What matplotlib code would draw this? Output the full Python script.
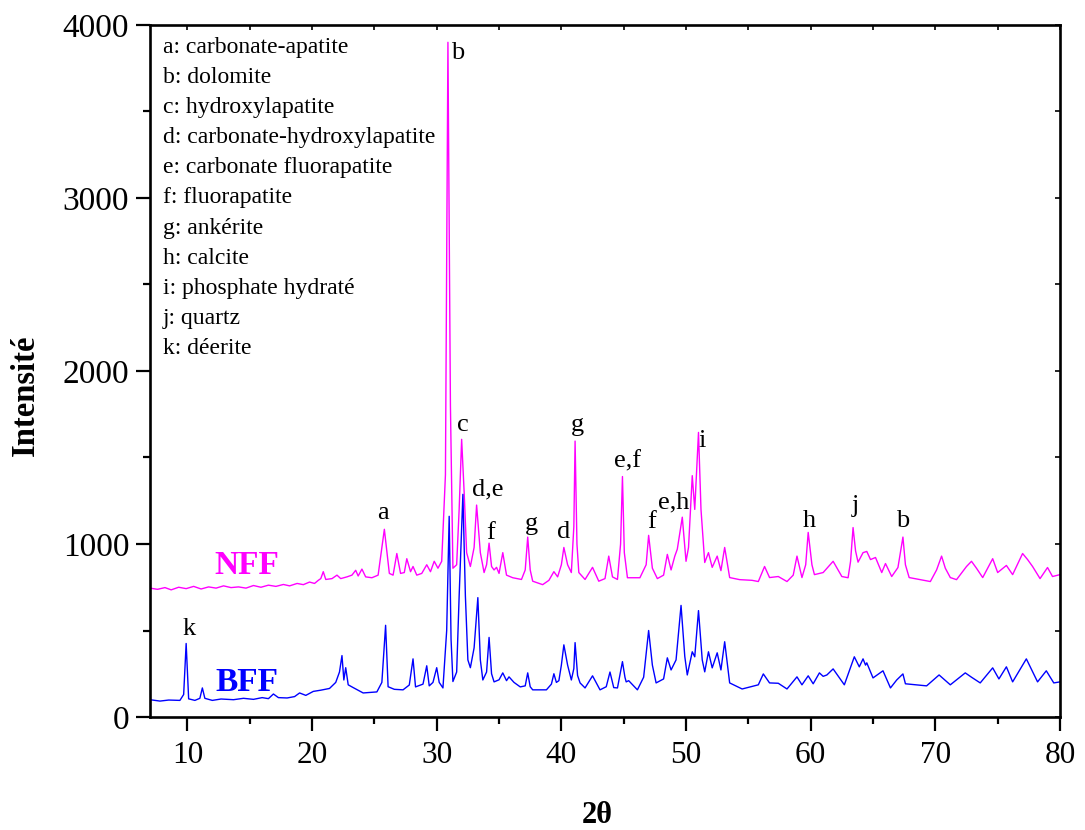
import matplotlib
matplotlib.use("Agg")
import matplotlib.pyplot as plt
from matplotlib.ticker import MultipleLocator

# Diffractogram of sample NFF (2theta, counts)
nff_2theta = [7.0, 7.6, 8.2, 8.7, 9.3, 9.9, 10.5, 11.1, 11.7, 12.3, 12.9, 13.5, 14.1,
              14.7, 15.3, 15.9, 16.5, 17.1, 17.7, 18.2, 18.8, 19.3, 19.8, 20.2, 20.5,
              20.7, 20.9, 21.1, 21.6, 22.0, 22.3,
              22.8, 23.2, 23.5, 23.7, 24.0, 24.3, 24.8, 25.3, 25.8, 26.2, 26.5, 26.8, 27.1,
              27.4, 27.6, 27.9, 28.1, 28.4, 28.8, 29.2, 29.5, 29.8, 30.1, 30.4, 30.7, 30.9,
              31.1, 31.3, 31.6, 31.8, 32.0, 32.2, 32.4, 32.7, 33.0, 33.2, 33.5, 33.8, 34.0,
              34.2, 34.4, 34.6, 34.8, 35.0, 35.3, 35.6, 36.1, 36.8, 37.1, 37.3, 37.5, 37.7,
              38.5, 39.0, 39.4, 39.7, 40.0, 40.2, 40.5, 40.8, 41.0, 41.1, 41.25, 41.4, 41.9,
              42.5, 43.0, 43.5, 43.8, 44.1, 44.5, 44.75, 44.9, 45.05, 45.3, 46.3, 46.8, 47.0,
              47.3, 47.7, 48.2, 48.5, 48.8, 49.1, 49.3, 49.7, 50.0, 50.2, 50.5, 50.7, 51.0,
              51.2, 51.5, 51.8, 52.1, 52.5, 52.8, 53.1, 53.5, 54.3, 55.3, 55.8, 56.3, 56.7,
              57.4, 58.1, 58.6, 58.9, 59.3, 59.6, 59.8, 60.1, 60.3, 61.0, 61.8, 62.5, 63.0,
              63.2, 63.4, 63.6, 63.8, 64.2, 64.5, 64.8, 65.2, 65.7, 66.0, 66.5, 67.0, 67.4,
              67.6, 67.9, 69.6, 70.1, 70.5, 70.8, 71.2, 71.7, 72.5, 72.9, 73.3, 73.8, 74.6,
              75.0, 75.7, 76.2, 77.0, 77.4, 77.8, 78.4, 79.0, 79.4, 80.0]
nff_counts = [745, 738, 748, 735, 750, 742, 755, 740, 752, 745, 758, 748, 752,
              745, 760, 750, 762, 755, 766, 758, 772, 765, 780, 772, 790,
              800, 840, 795, 800, 820, 800,
              810, 820, 848, 815, 855, 810, 805, 820, 1085, 830, 820, 945, 830,
              835, 915, 840, 870, 820, 830, 880, 840, 900, 860, 900, 1400, 3900,
              1800, 860, 880, 1200, 1605, 1300, 950, 870, 980, 1225, 950, 835, 880,
              1005, 870, 850, 865, 830, 950, 820, 805, 795, 850, 1040, 850, 785,
              765, 790, 840, 810, 880, 980, 880, 835, 1100, 1595, 1000, 835, 795,
              865, 785, 800, 930, 810, 795, 1000, 1390, 950, 805, 805, 880, 1050,
              860, 800, 820, 940, 850, 930, 970, 1155, 900, 980, 1395, 1200, 1645,
              1200, 893, 950, 865, 930, 846, 980, 806, 794, 790, 783, 870, 806,
              812, 783, 820, 930, 806, 880, 1067, 880, 823, 835, 900, 812, 805,
              900, 1095, 960, 895, 950, 957, 910, 922, 835, 887, 812, 864, 1040,
              880, 806, 783, 850, 930, 860, 806, 794, 870, 900, 860, 806, 915,
              835, 876, 823, 945, 910, 870, 800, 864, 812, 823]

# Diffractogram of sample BFF (2theta, counts)
bff_2theta = [7.0, 7.8, 8.5, 9.4, 9.7, 9.9, 10.1, 10.6, 11.0, 11.2, 11.4, 12.0, 12.7, 13.7,
              14.5, 15.3, 16.0, 16.5, 16.9, 17.3, 18.0, 18.6, 19.0, 19.5, 20.1, 20.7, 21.4,
              21.9, 22.2, 22.4, 22.55,
              22.7, 22.9, 23.3, 24.1, 25.2, 25.6, 25.9, 26.1, 26.6, 27.3, 27.8, 28.1, 28.3,
              28.9, 29.2, 29.4, 29.7, 30.0, 30.2, 30.5, 30.8, 31.0, 31.15, 31.3, 31.6, 31.8,
              32.1, 32.3, 32.5, 32.7, 33.0, 33.3, 33.5, 33.7, 34.0, 34.2, 34.4, 34.6, 35.0,
              35.3, 35.6, 35.8, 36.2, 36.7, 37.1, 37.3, 37.5, 37.7, 38.8, 39.2, 39.4, 39.6,
              39.8, 40.0, 40.2, 40.5, 40.8, 41.0, 41.1, 41.3, 41.5, 41.9, 42.5, 43.1, 43.6,
              43.9, 44.2, 44.5, 44.9, 45.1, 45.2, 45.4, 46.1, 46.6, 47.0, 47.3, 47.6, 48.2,
              48.5, 48.8, 49.2, 49.6, 49.9, 50.1, 50.5, 50.7, 51.0, 51.3, 51.5, 51.8, 52.1,
              52.5, 52.8, 53.1, 53.5, 54.5, 55.8, 56.2, 56.7, 57.4, 58.1, 58.9, 59.3, 59.8,
              60.2, 60.7, 61.0, 61.3, 61.8, 62.7, 63.5, 63.9, 64.2, 64.4, 64.5, 65.0, 65.8,
              66.4, 66.9, 67.4, 67.6, 69.3, 70.3, 71.2, 72.4, 72.9, 73.6, 74.6, 75.1, 75.7,
              76.2, 77.3, 78.2, 78.9, 79.5, 80.0]
bff_counts = [100, 92, 98, 96, 130, 425, 105, 96, 108, 168, 108, 96, 104, 100,
              108, 102, 112, 106, 133, 112, 110, 118, 139, 125, 148, 155, 165,
              200, 260, 355, 214,
              285, 186, 170, 139, 145, 200, 530, 175, 160, 157, 185, 336, 174,
              190, 296, 180, 200, 285, 200, 168, 500, 1160, 450, 205, 260, 700,
              1287, 700, 330, 285, 400, 690, 330, 214, 260, 460, 250, 203, 215,
              255, 210, 232, 200, 174, 180, 255, 175, 157, 157, 190, 250, 200,
              210, 300, 417, 300, 214, 280, 430, 240, 197, 168, 238, 157, 175,
              260, 170, 168, 320, 230, 203, 210, 157, 230, 500, 300, 197, 220,
              342, 272, 330, 645, 350, 243, 377, 348, 615, 330, 261, 377, 284,
              371, 272, 435, 197, 162, 186, 249, 197, 195, 162, 232, 186, 238,
              192, 255, 235, 243, 278, 186, 348, 290, 336, 300, 313, 226, 267,
              168, 214, 249, 192, 180, 243, 186, 255, 230, 197, 284, 220, 290,
              203, 336, 203, 267, 197, 203]

# Phase key shown in the upper-left corner
phase_key = ["a: carbonate-apatite", "b: dolomite", "c: hydroxylapatite",
             "d: carbonate-hydroxylapatite", "e: carbonate fluorapatite",
             "f: fluorapatite", "g: ankérite", "h: calcite",
             "i: phosphate hydraté", "j: quartz", "k: déerite"]

# Peak assignments: label and its (2theta, intensity) anchor
peak_labels = ["a", "b", "c", "d,e", "f", "g", "d", "g", "e,f", "f", "e,h", "i",
               "h", "j", "b", "k"]
peak_label_x = [25.7, 31.7, 32.1, 34.1, 34.3, 37.6, 40.2, 41.3, 45.3, 47.2, 49.0,
                51.3, 59.9, 63.6, 67.4, 10.1]
peak_label_y = [1180, 3840, 1690, 1316, 1061, 1113, 1067, 1687, 1478, 1125, 1241,
                1594, 1131, 1218, 1131, 510]

plt.rcParams["font.family"] = ["Liberation Serif", "DejaVu Serif"]

fig = plt.figure(figsize=(10.85, 8.30), dpi=100)
ax = fig.add_axes([150 / 1085, 1 - 717 / 830, 910 / 1085, 692 / 830])

ax.plot(nff_2theta, nff_counts, color="#FF00FF", lw=1.0)
ax.plot(bff_2theta, bff_counts, color="#0000FF", lw=1.0)

ax.set_xlim(7, 80)
ax.set_ylim(0, 4000)

ax.xaxis.set_major_locator(MultipleLocator(10))
ax.xaxis.set_minor_locator(MultipleLocator(5))
ax.yaxis.set_major_locator(MultipleLocator(1000))
ax.yaxis.set_minor_locator(MultipleLocator(500))

for s in ax.spines.values():
    s.set_linewidth(1.9)

ax.tick_params(axis="both", which="major", direction="out", length=10, width=1.6)
ax.tick_params(axis="both", which="minor", direction="out", length=5, width=1.6)
ax.tick_params(axis="x", which="major", labelsize=22.5, pad=7)
ax.tick_params(axis="y", which="major", labelsize=24, pad=5)

# mirrored inner ticks on top and right
top = ax.secondary_xaxis("top")
top.xaxis.set_major_locator(MultipleLocator(5))
top.tick_params(direction="in", length=3.5, width=1.2, labeltop=False)
right = ax.secondary_yaxis("right")
right.yaxis.set_major_locator(MultipleLocator(500))
right.tick_params(direction="in", length=3.5, width=1.2, labelright=False)
for sec in (top, right):
    for s in sec.spines.values():
        s.set_visible(False)

ax.set_xlabel("2θ", fontsize=22, fontweight="bold", va="center", ha="center")
ax.xaxis.set_label_coords(0.491, -0.142)
ax.set_ylabel("Intensité", fontsize=23.5, fontweight="bold", va="center", ha="center")
ax.yaxis.set_label_coords(-0.137, 0.465)

for i, line in enumerate(phase_key):
    ax.text(0.0143, 0.967 - i * 0.0434, line, transform=ax.transAxes,
            fontsize=17, ha="left", va="center")

for lab, lx, ly in zip(peak_labels, peak_label_x, peak_label_y):
    ax.text(lx, ly, lab, fontsize=19, ha="center", va="center")

ax.text(14.8, 875, "NFF", color="#FF00FF", fontsize=24, fontweight="bold",
        ha="center", va="center")
ax.text(14.8, 197, "BFF", color="#0000FF", fontsize=24, fontweight="bold",
        ha="center", va="center")

fig.savefig("out.png", dpi=100)
